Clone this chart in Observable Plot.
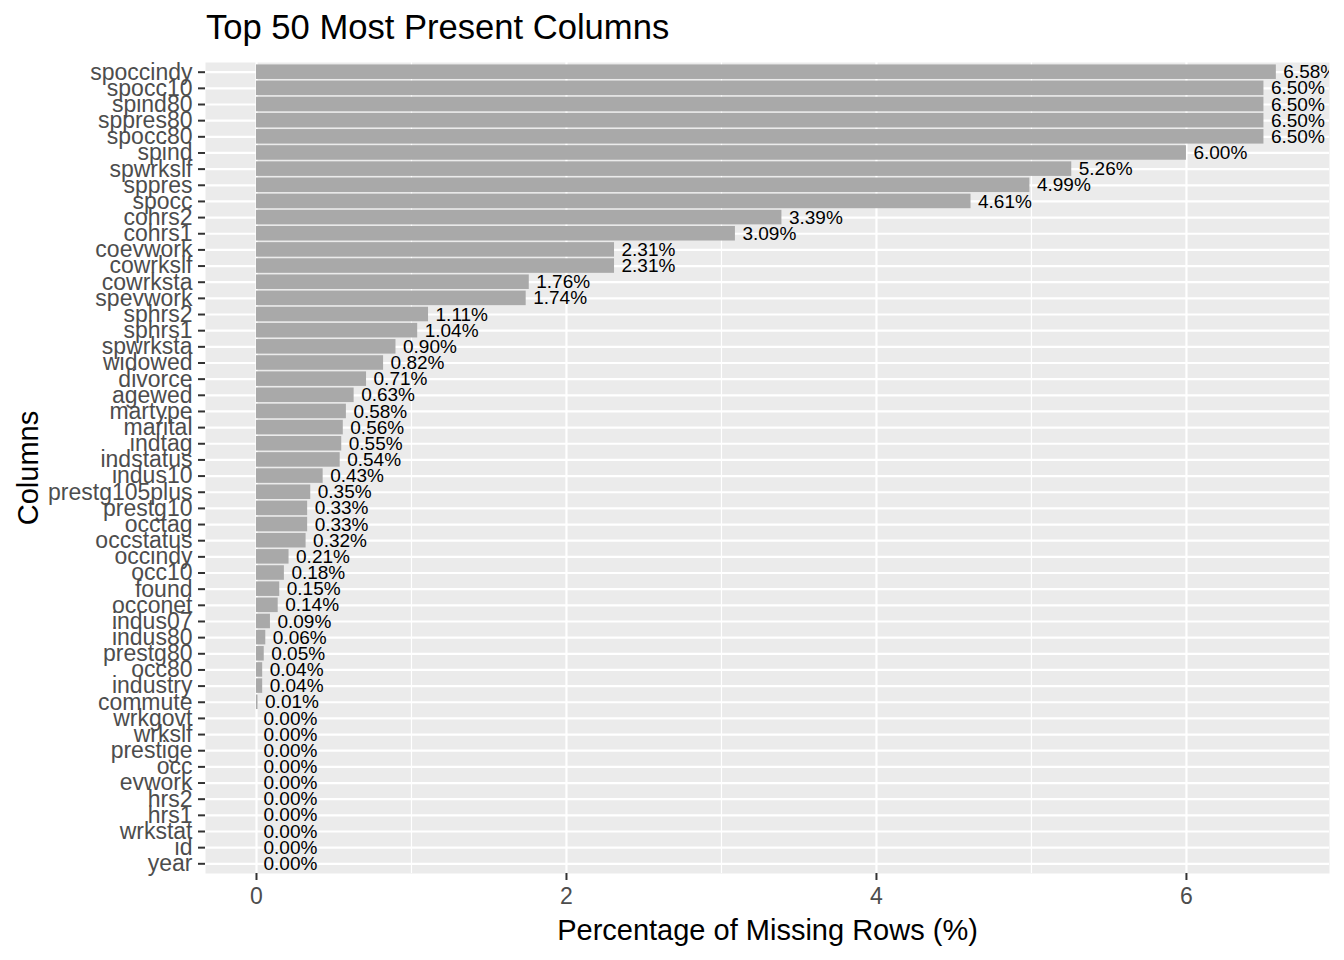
<!DOCTYPE html>
<html>
<head>
<meta charset="utf-8">
<script src="https://cdn.jsdelivr.net/npm/d3@7"></script>
<script src="https://cdn.jsdelivr.net/npm/@observablehq/plot@0.6"></script>
<style>
  body { margin: 0; background: #fff; font-family: "Liberation Sans", Arial, sans-serif; }
  #title { height: 50px; box-sizing: border-box; padding-top: 10px; padding-left: 206px; font-size: 34.6px; line-height: 1; color: #000; }
  svg [aria-label="y-axis tick"], svg [aria-label="x-axis tick"] { stroke: #333333; stroke-width: 2px; }
  svg [aria-label="y-axis tick label"], svg [aria-label="x-axis tick label"] { fill: #4D4D4D; }
</style>
</head>
<body>
<div id="title">Top 50 Most Present Columns</div>
<div id="chart"></div>
<script>
const columns = ["spoccindy","spocc10","spind80","sppres80","spocc80","spind","spwrkslf","sppres","spocc","cohrs2",
  "cohrs1","coevwork","cowrkslf","cowrksta","spevwork","sphrs2","sphrs1","spwrksta","widowed","divorce",
  "agewed","martype","marital","indtag","indstatus","indus10","prestg105plus","prestg10","occtag","occstatus",
  "occindy","occ10","found","occonet","indus07","indus80","prestg80","occ80","industry","commute",
  "wrkgovt","wrkslf","prestige","occ","evwork","hrs2","hrs1","wrkstat","id","year"];
const missingPct = [6.58,6.50,6.50,6.50,6.50,6.00,5.26,4.99,4.61,3.39,
  3.09,2.31,2.31,1.76,1.74,1.11,1.04,0.90,0.82,0.71,
  0.63,0.58,0.56,0.55,0.54,0.43,0.35,0.33,0.33,0.32,
  0.21,0.18,0.15,0.14,0.09,0.06,0.05,0.04,0.04,0.01,
  0,0,0,0,0,0,0,0,0,0];
const xTicks = [0, 2, 4, 6];
const xMinor = [1, 3, 5];
const xLabel = "Percentage of Missing Rows (%)";
const yLabel = "Columns";

const data = columns.map((c, i) => ({column: c, pct: missingPct[i]}));

const chart = Plot.plot({
  width: 1344,
  height: 910,
  marginLeft: 205,
  marginRight: 15,
  marginTop: 12,
  marginBottom: 87,
  style: {fontFamily: "'Liberation Sans', Arial, sans-serif", background: "#fff"},
  x: {domain: [-0.329, 6.923], ticks: xTicks},
  y: {type: "band", domain: columns, paddingInner: 0.1, paddingOuter: 0.15, round: false},
  marks: [
    Plot.frame({fill: "#EBEBEB", stroke: null}),
    Plot.ruleX(xMinor, {stroke: "#fff", strokeWidth: 1.2}),
    Plot.ruleX(xTicks, {stroke: "#fff", strokeWidth: 2.2}),
    Plot.ruleY(columns, {y: d => d, stroke: "#fff", strokeWidth: 2.2}),
    Plot.barX(data, {x: "pct", y: "column", fill: "#A9A9A9"}),
    Plot.text(data, {x: "pct", y: "column", text: d => d.pct.toFixed(2) + "%", textAnchor: "start", dx: 7, fontSize: 19, fill: "#000", clip: true}),
    Plot.axisX({ticks: xTicks, tickSize: 7, tickPadding: 7, fontSize: 23, label: null}),
    Plot.axisY({tickSize: 7, tickPadding: 6, fontSize: 23, label: null}),
    Plot.text([xLabel], {frameAnchor: "bottom", dy: 57, fontSize: 29, fill: "#000", textAnchor: "middle", lineAnchor: "middle"}),
    Plot.text([yLabel], {frameAnchor: "left", dx: -177, rotate: -90, fontSize: 29, fill: "#000", textAnchor: "middle", lineAnchor: "middle"})
  ]
});
document.getElementById("chart").appendChild(chart);
</script>
</body>
</html>
